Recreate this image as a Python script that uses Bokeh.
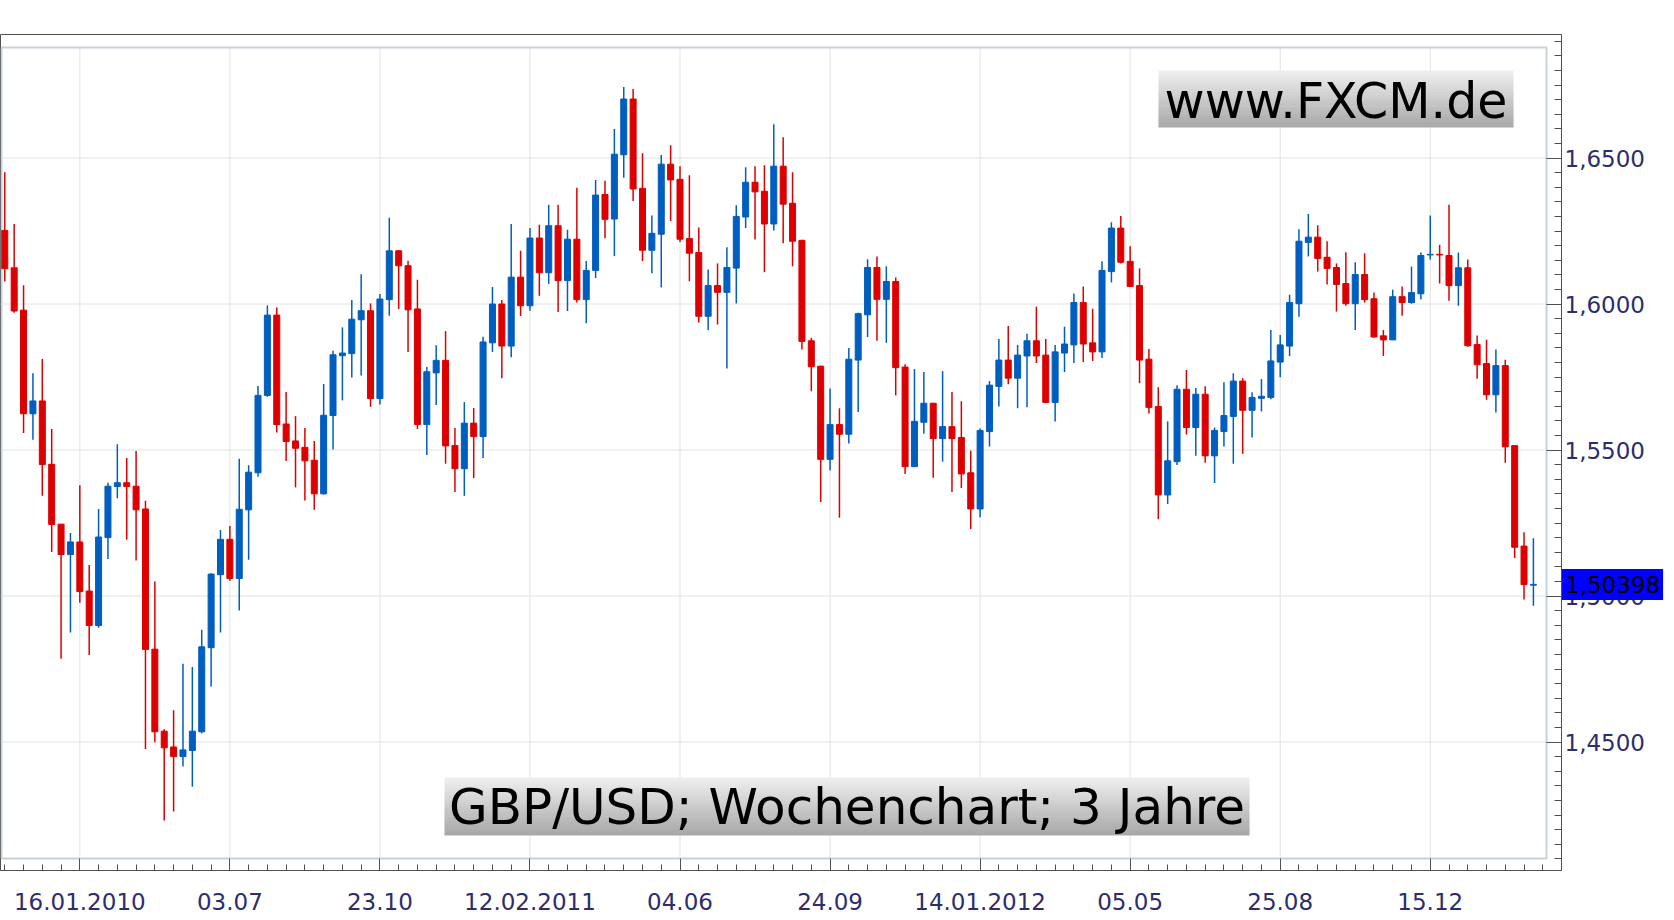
from bokeh.plotting import figure
from bokeh.models import Range1d, FixedTicker, ColumnDataSource, Label
from bokeh.core.properties import value
from bokeh.embed import file_html
from bokeh.resources import INLINE

# ---------------- data (weekly GBP/USD candles) ----------------
OPEN = [1.6252, 1.6124, 1.5979, 1.5624, 1.5668, 1.5451, 1.5246, 1.5142, 1.5185, 1.5017,
        1.4899, 1.5200, 1.5375, 1.5388, 1.5376, 1.5298, 1.4818, 1.4537, 1.4483, 1.4450,
        1.4471, 1.4535, 1.4823, 1.5073, 1.5194, 1.5060, 1.5295, 1.5422, 1.5687, 1.5962,
        1.5589, 1.5531, 1.5509, 1.5465, 1.5350, 1.5618, 1.5823, 1.5830, 1.5946, 1.5977,
        1.5676, 1.6015, 1.6182, 1.6131, 1.5983, 1.5587, 1.5764, 1.5807, 1.5515, 1.5436,
        1.5592, 1.5546, 1.5867, 1.6000, 1.5856, 1.6092, 1.5994, 1.6226, 1.6107, 1.6268,
        1.6080, 1.6222, 1.6015, 1.6115, 1.6375, 1.6291, 1.6511, 1.6702, 1.6396, 1.6184,
        1.6239, 1.6479, 1.6427, 1.6224, 1.6176, 1.5958, 1.6063, 1.6040, 1.6123, 1.6298,
        1.6417, 1.6386, 1.6274, 1.6472, 1.6345, 1.6218, 1.5874, 1.5787, 1.5468, 1.5587,
        1.5554, 1.5808, 1.5963, 1.6125, 1.6016, 1.6077, 1.5784, 1.5443, 1.5595, 1.5660,
        1.5539, 1.5580, 1.5543, 1.5422, 1.5298, 1.5563, 1.5718, 1.5808, 1.5746, 1.5822,
        1.5874, 1.5825, 1.5663, 1.5832, 1.5860, 1.6005, 1.5867, 1.5836, 1.6111, 1.6260,
        1.6146, 1.6063, 1.5811, 1.5649, 1.5346, 1.5460, 1.5708, 1.5577, 1.5691, 1.5480,
        1.5563, 1.5615, 1.5736, 1.5636, 1.5677, 1.5680, 1.5801, 1.5856, 1.6001, 1.6211,
        1.6229, 1.6160, 1.6125, 1.6070, 1.6001, 1.6101, 1.6018, 1.5891, 1.5877, 1.6025,
        1.6005, 1.6035, 1.6168, 1.6170, 1.6166, 1.6063, 1.6124, 1.5861, 1.5796, 1.5689,
        1.5789, 1.5515, 1.5171, 1.5037]

HIGH = [1.6451, 1.6274, 1.6064, 1.5763, 1.5812, 1.5572, 1.5246, 1.5216, 1.5379, 1.5106,
        1.5298, 1.5388, 1.5520, 1.5473, 1.5497, 1.5326, 1.5050, 1.4544, 1.4609, 1.4768,
        1.4757, 1.4884, 1.5078, 1.5226, 1.5240, 1.5470, 1.5448, 1.5719, 1.5995, 1.5988,
        1.5699, 1.5616, 1.5575, 1.5531, 1.5726, 1.5840, 1.5920, 1.6014, 1.6102, 1.6002,
        1.6034, 1.6295, 1.6185, 1.6148, 1.6083, 1.5784, 1.5859, 1.5907, 1.5575, 1.5664,
        1.5644, 1.5888, 1.6058, 1.6014, 1.6274, 1.6182, 1.6260, 1.6271, 1.6340, 1.6340,
        1.6254, 1.6398, 1.6147, 1.6425, 1.6422, 1.6599, 1.6743, 1.6736, 1.6516, 1.6303,
        1.6510, 1.6544, 1.6472, 1.6441, 1.6262, 1.6118, 1.6139, 1.6194, 1.6338, 1.6468,
        1.6472, 1.6475, 1.6616, 1.6571, 1.6451, 1.6220, 1.5884, 1.5789, 1.5711, 1.5643,
        1.5849, 1.5970, 1.6153, 1.6163, 1.6129, 1.6091, 1.5794, 1.5777, 1.5767, 1.5662,
        1.5770, 1.5699, 1.5667, 1.5498, 1.5574, 1.5736, 1.5880, 1.5925, 1.5860, 1.5898,
        1.5991, 1.5880, 1.5860, 1.5922, 1.6036, 1.6060, 1.5984, 1.6146, 1.6280, 1.6301,
        1.6198, 1.6122, 1.5846, 1.5715, 1.5598, 1.5722, 1.5774, 1.5712, 1.5718, 1.5577,
        1.5732, 1.5763, 1.5746, 1.5698, 1.5743, 1.5911, 1.5894, 1.6032, 1.6256, 1.6308,
        1.6270, 1.6215, 1.6139, 1.6177, 1.6143, 1.6174, 1.6039, 1.5911, 1.6049, 1.6060,
        1.6128, 1.6176, 1.6303, 1.6203, 1.6340, 1.6176, 1.6152, 1.5892, 1.5878, 1.5844,
        1.5809, 1.5515, 1.5218, 1.5198]

LOW = [1.6077, 1.5970, 1.5558, 1.5535, 1.5343, 1.5151, 1.4785, 1.4875, 1.4977, 1.4798,
       1.4891, 1.5127, 1.5335, 1.5193, 1.5122, 1.4476, 1.4499, 1.4231, 1.4262, 1.4416,
       1.4347, 1.4530, 1.4690, 1.4875, 1.5052, 1.4950, 1.5124, 1.5408, 1.5682, 1.5560,
       1.5462, 1.5372, 1.5327, 1.5295, 1.5347, 1.5502, 1.5670, 1.5748, 1.5755, 1.5648,
       1.5656, 1.5960, 1.5983, 1.5836, 1.5572, 1.5483, 1.5654, 1.5453, 1.5356, 1.5343,
       1.5404, 1.5473, 1.5836, 1.5746, 1.5818, 1.5959, 1.5977, 1.6028, 1.6069, 1.5973,
       1.5976, 1.6005, 1.5934, 1.6089, 1.6225, 1.6164, 1.6432, 1.6353, 1.6147, 1.6105,
       1.6057, 1.6284, 1.6212, 1.6078, 1.5937, 1.5910, 1.5930, 1.5779, 1.6002, 1.6260,
       1.6221, 1.6109, 1.6252, 1.6208, 1.6129, 1.5844, 1.5701, 1.5322, 1.5430, 1.5268,
       1.5522, 1.5630, 1.5887, 1.5874, 1.5867, 1.5687, 1.5418, 1.5443, 1.5556, 1.5405,
       1.5460, 1.5356, 1.5370, 1.5229, 1.5270, 1.5512, 1.5649, 1.5725, 1.5643, 1.5646,
       1.5798, 1.5660, 1.5598, 1.5767, 1.5798, 1.5801, 1.5805, 1.5815, 1.6074, 1.6139,
       1.6058, 1.5729, 1.5625, 1.5263, 1.5315, 1.5449, 1.5553, 1.5480, 1.5456, 1.5387,
       1.5512, 1.5453, 1.5487, 1.5543, 1.5632, 1.5674, 1.5749, 1.5822, 1.5956, 1.6163,
       1.6111, 1.6067, 1.5974, 1.5994, 1.5911, 1.6005, 1.5884, 1.5822, 1.5877, 1.5960,
       1.6001, 1.6015, 1.6152, 1.6070, 1.6011, 1.5994, 1.5854, 1.5744, 1.5672, 1.5628,
       1.5456, 1.5130, 1.4988, 1.4967]

CLOSE = [1.6121, 1.5976, 1.5624, 1.5668, 1.5450, 1.5245, 1.5142, 1.5185, 1.5015, 1.4899,
         1.5202, 1.5376, 1.5388, 1.5375, 1.5295, 1.4817, 1.4535, 1.4480, 1.4450, 1.4473,
         1.4537, 1.4826, 1.5075, 1.5194, 1.5060, 1.5297, 1.5424, 1.5687, 1.5962, 1.5587,
         1.5529, 1.5506, 1.5463, 1.5350, 1.5619, 1.5826, 1.5832, 1.5948, 1.5977, 1.5676,
         1.6017, 1.6182, 1.6131, 1.5980, 1.5587, 1.5768, 1.5807, 1.5514, 1.5436, 1.5592,
         1.5546, 1.5870, 1.6000, 1.5856, 1.6092, 1.5994, 1.6226, 1.6107, 1.6268, 1.6080,
         1.6222, 1.6015, 1.6115, 1.6373, 1.6290, 1.6513, 1.6702, 1.6394, 1.6184, 1.6242,
         1.6479, 1.6425, 1.6222, 1.6174, 1.5958, 1.6063, 1.6040, 1.6125, 1.6300, 1.6417,
         1.6384, 1.6274, 1.6472, 1.6342, 1.6215, 1.5872, 1.5785, 1.5468, 1.5587, 1.5554,
         1.5811, 1.5967, 1.6125, 1.6016, 1.6077, 1.5782, 1.5443, 1.5598, 1.5660, 1.5539,
         1.5580, 1.5539, 1.5418, 1.5298, 1.5567, 1.5722, 1.5808, 1.5746, 1.5825, 1.5874,
         1.5822, 1.5663, 1.5836, 1.5863, 1.6005, 1.5863, 1.5836, 1.6115, 1.6260, 1.6143,
         1.6060, 1.5808, 1.5646, 1.5346, 1.5463, 1.5708, 1.5577, 1.5691, 1.5480, 1.5567,
         1.5618, 1.5736, 1.5636, 1.5680, 1.5684, 1.5805, 1.5860, 1.6005, 1.6215, 1.6229,
         1.6156, 1.6122, 1.6067, 1.6001, 1.6101, 1.6015, 1.5887, 1.5877, 1.6025, 1.6005,
         1.6039, 1.6166, 1.6170, 1.6168, 1.6063, 1.6124, 1.5857, 1.5792, 1.5689, 1.5789,
         1.5511, 1.5167, 1.5039, 1.50398]

X_TICK_INDEX = [8, 24, 40, 56, 72, 88, 104, 120, 136, 152]
X_TICK_LABELS = ["16.01.2010", "03.07", "23.10", "12.02.2011", "04.06",
                 "24.09", "14.01.2012", "05.05", "25.08", "15.12"]
Y_TICKS = [1.45, 1.50, 1.55, 1.60, 1.65]
Y_TICK_LABELS = ["1,4500", "1,5000", "1,5500", "1,6000", "1,6500"]
WATERMARK = "www.FXCM.de"
CAPTION = "GBP/USD; Wochenchart; 3 Jahre"

# ---------------- layout (canvas pixels) ----------------
W, H = 1674, 920
FRAME_L, FRAME_R, FRAME_T, FRAME_B = 0, 1561, 34, 870
INNER_R, INNER_T, INNER_B = 1546, 47, 858
X_PX0, X_STEP = 4.3, 9.378
Y_REF_VAL, Y_REF_PX, PX_PER_UNIT = 1.60, 303.5, 2920.0


def xd(px):
    return (px - X_PX0) / X_STEP


def yd(py):
    return Y_REF_VAL - (py - Y_REF_PX) / PX_PER_UNIT


UP, DOWN = "#005ebf", "#dd0000"
AXIS_C = "#505050"
LABEL_C = "#2d2d6e"

p = figure(width=W, height=H, output_backend="svg", toolbar_location=None, title=None,
           x_range=Range1d(xd(FRAME_L), xd(FRAME_R)),
           y_range=Range1d(yd(FRAME_B), yd(FRAME_T)),
           x_axis_location="below", y_axis_location="right",
           min_border_left=0, min_border_right=W - FRAME_R,
           min_border_top=FRAME_T, min_border_bottom=H - FRAME_B,
           background_fill_color="white", border_fill_color="white")
p.outline_line_color = AXIS_C
p.outline_line_width = 1
p.xgrid.visible = False
p.ygrid.visible = False

# grid lines, limited to the inner frame
nx = len(X_TICK_INDEX)
p.segment(x0=[xd(FRAME_L)] * len(Y_TICKS), y0=Y_TICKS, x1=[xd(INNER_R)] * len(Y_TICKS), y1=Y_TICKS,
          line_color="#e2e2e2", line_width=1)
p.segment(x0=X_TICK_INDEX, y0=[yd(INNER_B)] * nx, x1=X_TICK_INDEX, y1=[yd(INNER_T)] * nx,
          line_color="#e2e2e2", line_width=1)
# inner frame
p.quad(left=[xd(FRAME_L + 1)], right=[xd(INNER_R)], top=[yd(INNER_T)], bottom=[yd(INNER_B)],
       fill_color=None, line_color="#c6d1de", line_width=2)


def grad_box(l, r, t, b, n=24, c0=238, c1=168):
    h = (b - t) / n
    L, R, T, B, C = [], [], [], [], []
    for k in range(n):
        g = int(round(c0 + (c1 - c0) * k / (n - 1)))
        L.append(xd(l)); R.append(xd(r))
        T.append(yd(t + k * h)); B.append(yd(min(b, t + (k + 1) * h + 0.6)))
        C.append("#%02x%02x%02x" % (g, g, g))
    p.quad(left=L, right=R, top=T, bottom=B, fill_color=C, line_color=None)


grad_box(1158, 1513, 70, 127)
grad_box(444, 1249, 777, 835)

# candles
idx = list(range(len(OPEN)))
cols = [UP if c >= o else DOWN for o, c in zip(OPEN, CLOSE)]
src = ColumnDataSource(dict(
    x=idx, o=OPEN, h=HIGH, l=LOW, c=CLOSE,
    top=[max(o, c) for o, c in zip(OPEN, CLOSE)],
    bot=[min(o, c) for o, c in zip(OPEN, CLOSE)],
    col=cols))
p.segment(x0="x", y0="l", x1="x", y1="h", line_color="col", line_width=1.5, source=src)
p.vbar(x="x", width=0.64, top="top", bottom="bot", fill_color="col", line_color="col",
       line_width=1, source=src)

# texts in boxes
p.text(x=[xd(1335.5)], y=[yd(100.5)], text=[WATERMARK], text_font=value("DejaVu Sans"),
       text_font_size="49px", text_align="center", text_baseline="alphabetic", text_color="black")
p.text(x=[xd(846.5)], y=[yd(806)], text=[CAPTION], text_font=value("DejaVu Sans"),
       text_font_size="50px", text_align="center", text_baseline="alphabetic", text_color="black")

# axes
xa = p.xaxis[0]
xa.ticker = FixedTicker(ticks=X_TICK_INDEX, minor_ticks=list(range(0, 166, 2)))
xa.major_label_overrides = {k: v for k, v in zip(X_TICK_INDEX, X_TICK_LABELS)}
xa.major_tick_in = 12
xa.major_tick_out = 0
xa.minor_tick_in = 6
xa.minor_tick_out = 0
xa.major_label_standoff = 22

ya = p.yaxis[0]
ya.ticker = FixedTicker(ticks=Y_TICKS, minor_ticks=[round(1.41 + 0.005 * k, 3) for k in range(57)])
ya.major_label_overrides = {k: v for k, v in zip(Y_TICKS, Y_TICK_LABELS)}
ya.major_tick_in = 15
ya.major_tick_out = 0
ya.minor_tick_in = 7
ya.minor_tick_out = 0
ya.major_label_standoff = 3

for ax in (xa, ya):
    ax.axis_line_color = AXIS_C
    ax.axis_line_width = 1
    ax.major_tick_line_color = AXIS_C
    ax.minor_tick_line_color = AXIS_C
    ax.major_label_text_font = "DejaVu Sans"
    ax.major_label_text_font_size = "23px"
    ax.major_label_text_color = LABEL_C

# current price marker (placed in a side panel so it is not clipped to the frame)
last = CLOSE[-1]
price = Label(x=xd(1561.5), y=last, text=("%.5f" % last).replace(".", ","),
              text_font="DejaVu Sans", text_font_size="23px", text_color="black",
              text_align="left", text_baseline="middle",
              background_fill_color="#0000ff",
              padding=dict(left=3, right=3, top=7, bottom=7))
p.add_layout(price, "above")

open("out.html", "w").write(file_html(p, INLINE))
